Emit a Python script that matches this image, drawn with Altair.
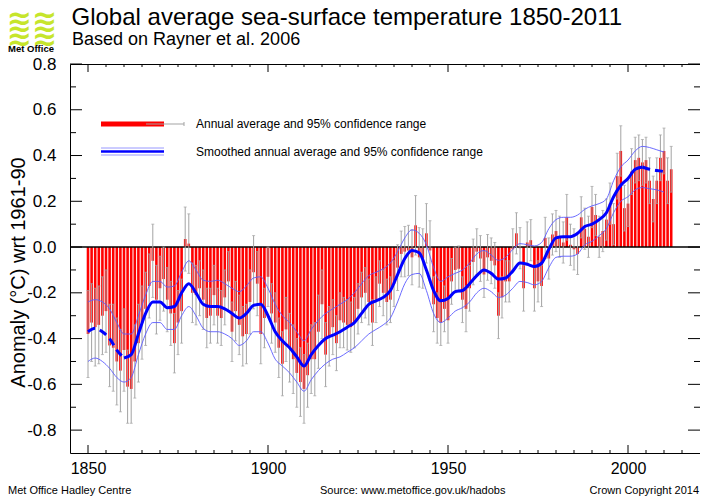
import altair as alt
import pandas as pd

# ---------------- data ----------------
years = list(range(1850, 2013))
anomaly = [
    -0.38, -0.33, -0.35, -0.34, -0.30, -0.28, -0.43, -0.44, -0.50, -0.54,
    -0.45, -0.61, -0.62, -0.50, -0.42, -0.33, -0.27, -0.17, -0.06, -0.23,
    -0.18, -0.14, -0.23, -0.29, -0.42, -0.33, -0.28, 0.035, 0.015, -0.20,
    -0.21, -0.18, -0.23, -0.31, -0.30, -0.21, -0.30, -0.31, -0.22, -0.15,
    -0.37, -0.28, -0.34, -0.39, -0.38, -0.24, -0.11, -0.16, -0.38, -0.31,
    -0.13, -0.29, -0.33, -0.44, -0.51, -0.36, -0.44, -0.49, -0.55, -0.59,
    -0.62, -0.56, -0.49, -0.49, -0.37, -0.25, -0.47, -0.39, -0.35, -0.42,
    -0.32, -0.33, -0.34, -0.35, -0.33, -0.27, -0.22, -0.20, -0.24, -0.33,
    -0.23, -0.16, -0.20, -0.24, -0.23, -0.16, -0.09, -0.03, -0.02, -0.015,
    -0.045, 0.095, -0.045, -0.05, 0.06, -0.015, -0.25, -0.31, -0.33, -0.27,
    -0.32, -0.15, -0.10, -0.095, -0.23, -0.27, -0.18, -0.065, -0.02, -0.05,
    -0.12, -0.045, -0.06, -0.08, -0.30, -0.22, -0.15, -0.15, -0.01, 0.06,
    -0.005, -0.18, 0.02, 0.03, -0.18, -0.15, -0.17, 0.04, -0.05, 0.055,
    0.07, 0.045, 0.02, 0.13, 0.01, -0.01, -0.03, 0.13, 0.08, 0.045,
    0.175, 0.14, 0.045, 0.07, 0.12, 0.19, 0.10, 0.31, 0.42, 0.17,
    0.19, 0.33, 0.38, 0.39, 0.37, 0.38, 0.29, 0.21, 0.29, 0.39,
    0.42, 0.29, 0.34,
]
err = [
    0.19, 0.17, 0.17, 0.17, 0.17, 0.18, 0.18, 0.19, 0.19, 0.18,
    0.18, 0.16, 0.15, 0.16, 0.17, 0.16, 0.16, 0.14, 0.16, 0.15,
    0.14, 0.14, 0.14, 0.14, 0.13, 0.14, 0.14, 0.14, 0.13, 0.13,
    0.13, 0.12, 0.13, 0.13, 0.12, 0.13, 0.12, 0.12, 0.12, 0.13,
    0.13, 0.13, 0.13, 0.13, 0.13, 0.14, 0.16, 0.14, 0.13, 0.13,
    0.13, 0.13, 0.13, 0.13, 0.14, 0.14, 0.15, 0.15, 0.15, 0.15,
    0.15, 0.14, 0.15, 0.16, 0.16, 0.15, 0.14, 0.13, 0.12, 0.12,
    0.12, 0.11, 0.11, 0.11, 0.11, 0.11, 0.11, 0.11, 0.10, 0.10,
    0.10, 0.10, 0.10, 0.10, 0.10, 0.10, 0.10, 0.10, 0.11, 0.11,
    0.12, 0.13, 0.13, 0.13, 0.13, 0.13, 0.12, 0.11, 0.10, 0.10,
    0.10, 0.10, 0.10, 0.10, 0.10, 0.10, 0.10, 0.10, 0.10, 0.10,
    0.10, 0.10, 0.10, 0.10, 0.10, 0.09, 0.09, 0.09, 0.09, 0.09,
    0.09, 0.10, 0.09, 0.09, 0.10, 0.09, 0.09, 0.09, 0.09, 0.09,
    0.09, 0.09, 0.09, 0.10, 0.09, 0.09, 0.09, 0.09, 0.09, 0.09,
    0.09, 0.09, 0.09, 0.09, 0.09, 0.09, 0.09, 0.10, 0.11, 0.10,
    0.10, 0.10, 0.10, 0.10, 0.10, 0.10, 0.10, 0.10, 0.10, 0.10,
    0.10, 0.10, 0.10,
]

smooth_years = list(range(1850, 2011, 2))
smooth = [
    -0.37, -0.355, -0.37, -0.40, -0.45, -0.485, -0.47, -0.38, -0.29, -0.24,
    -0.24, -0.265, -0.26, -0.20, -0.16, -0.20, -0.25, -0.26, -0.26, -0.27,
    -0.29, -0.31, -0.29, -0.255, -0.25, -0.30, -0.37, -0.41, -0.44, -0.48,
    -0.52, -0.47, -0.43, -0.40, -0.385, -0.37, -0.35, -0.33, -0.29, -0.25,
    -0.235, -0.22, -0.19, -0.12, -0.05, -0.015, -0.025, -0.10, -0.19, -0.235,
    -0.225, -0.195, -0.19, -0.16, -0.125, -0.10, -0.115, -0.14, -0.135, -0.105,
    -0.07, -0.075, -0.085, -0.07, -0.01, 0.04, 0.045, 0.045, 0.06, 0.09,
    0.10, 0.12, 0.15, 0.22, 0.27, 0.30, 0.34, 0.35, 0.34, 0.335,
    0.33,
]
smooth_upper = [
    -0.24, -0.23, -0.24, -0.27, -0.33, -0.38, -0.38, -0.30, -0.21, -0.15,
    -0.15, -0.175, -0.17, -0.11, -0.06, -0.10, -0.145, -0.15, -0.145, -0.16,
    -0.18, -0.195, -0.17, -0.135, -0.13, -0.18, -0.25, -0.30, -0.33, -0.37,
    -0.41, -0.36, -0.32, -0.29, -0.27, -0.25, -0.23, -0.20, -0.16, -0.125,
    -0.11, -0.095, -0.07, -0.02, 0.04, 0.075, 0.06, 0.01, -0.09, -0.15,
    -0.13, -0.115, -0.10, -0.07, -0.03, -0.015, -0.035, -0.058, -0.045, -0.01,
    0.015, 0.01, 0.005, 0.02, 0.08, 0.12, 0.13, 0.13, 0.14, 0.165,
    0.18, 0.19, 0.21, 0.29, 0.35, 0.38, 0.42, 0.44, 0.435, 0.425,
    0.415,
]
smooth_lower = [
    -0.50, -0.485, -0.50, -0.53, -0.57, -0.59, -0.57, -0.47, -0.38, -0.33,
    -0.33, -0.36, -0.36, -0.30, -0.26, -0.30, -0.355, -0.37, -0.37, -0.38,
    -0.40, -0.43, -0.41, -0.37, -0.37, -0.42, -0.49, -0.52, -0.55, -0.59,
    -0.63, -0.58, -0.54, -0.51, -0.49, -0.48, -0.46, -0.44, -0.41, -0.38,
    -0.36, -0.34, -0.31, -0.24, -0.16, -0.12, -0.115, -0.19, -0.29, -0.33,
    -0.31, -0.28, -0.265, -0.24, -0.20, -0.18, -0.195, -0.22, -0.21, -0.18,
    -0.15, -0.155, -0.165, -0.15, -0.09, -0.045, -0.04, -0.04, -0.03, 0.01,
    0.025, 0.05, 0.08, 0.15, 0.20, 0.22, 0.25, 0.26, 0.255, 0.25,
    0.24,
]

x_major = [1850, 1900, 1950, 2000]
x_minor = [1855, 1860, 1865, 1870, 1875, 1880, 1885, 1890, 1895, 1905, 1910,
           1915, 1920, 1925, 1930, 1935, 1940, 1945, 1955, 1960, 1965, 1970,
           1975, 1980, 1985, 1990, 1995, 2005, 2010, 2015]
y_major = [-0.8, -0.6, -0.4, -0.2, 0.0, 0.2, 0.4, 0.6, 0.8]
y_minor = [-0.7, -0.5, -0.3, -0.1, 0.1, 0.3, 0.5, 0.7]

title = "Global average sea-surface temperature 1850-2011"
subtitle = "Based on Rayner et al. 2006"
y_title = "Anomaly (°C) wrt 1961-90"
legend_labels = ["Annual average and 95% confidence range",
                 "Smoothed annual average and 95% confidence range"]
footer_left = "Met Office Hadley Centre"
footer_mid = "Source: www.metoffice.gov.uk/hadobs"
footer_right = "Crown Copyright 2014"
logo_text = "Met Office"
logo_waves = ["~~", "~~", "~~", "~~", "~~"]

# ---------------- build ----------------
W, H = 630, 389
FONT = "Liberation Sans"
GREEN = "#c6e52c"

annual_df = pd.DataFrame({"year": years, "anomaly": anomaly, "err": err})
smooth_df = pd.DataFrame({"year": smooth_years, "mid": smooth,
                          "upper": smooth_upper, "lower": smooth_lower})
one = pd.DataFrame({"k": [0]})

xs = alt.Scale(domain=[1845, 2020], nice=False, zero=False)
ys = alt.Scale(domain=[-0.9, 0.8], nice=False, zero=False)

x_axis = alt.Axis(values=x_major, format="d", ticks=False, tickSize=0, domain=False,
                  grid=False, labelFontSize=16, labelPadding=7, labelFont=FONT,
                  labelColor="black", title=None)
y_axis = alt.Axis(values=y_major, ticks=False, tickSize=0, domain=False, grid=False,
                  labelExpr="replace(format(datum.value, '.1f'), '\u2212', '-')",
                  labelFontSize=17, labelPadding=14, labelFont=FONT, labelColor="black",
                  title=y_title, titleFont=FONT, titleFontSize=20, titleFontWeight="normal",
                  titleColor="black", titleX=-52, titleY=208, titleAngle=270,
                  titleAlign="center", titleBaseline="middle")

bars = alt.Chart(annual_df).mark_rule(color="#ff0000", strokeWidth=2.6).encode(
    x=alt.X("year:Q", scale=xs, axis=x_axis),
    y=alt.Y("anomaly:Q", scale=ys, axis=y_axis),
    y2=alt.datum(0),
)

zero = alt.Chart(one).mark_rule(color="black", strokeWidth=1.5).encode(y=alt.datum(0))

base_err = alt.Chart(annual_df).transform_calculate(
    lo="datum.anomaly - datum.err", hi="datum.anomaly + datum.err")
errbars = base_err.mark_rule(color="#a3a3a3", strokeWidth=1).encode(
    x="year:Q", y=alt.Y("lo:Q"), y2="hi:Q")
cap_lo = base_err.mark_tick(color="#a3a3a3", thickness=1, size=3, orient="horizontal").encode(
    x="year:Q", y="lo:Q")
cap_hi = base_err.mark_tick(color="#a3a3a3", thickness=1, size=3, orient="horizontal").encode(
    x="year:Q", y="hi:Q")

sm = alt.Chart(smooth_df)
upper_line = sm.mark_line(color="#5a5aff", strokeWidth=0.9, interpolate="monotone").encode(
    x="year:Q", y="upper:Q")
lower_line = sm.mark_line(color="#5a5aff", strokeWidth=0.9, interpolate="monotone").encode(
    x="year:Q", y="lower:Q")
mid_solid = sm.transform_filter("datum.year >= 1860 && datum.year <= 2004").mark_line(
    color="#0000ff", strokeWidth=3, interpolate="monotone").encode(x="year:Q", y="mid:Q")
mid_dash1 = sm.transform_filter("datum.year <= 1860").mark_line(
    color="#0000ff", strokeWidth=3, interpolate="monotone", strokeDash=[8, 5]).encode(
    x="year:Q", y="mid:Q")
mid_dash2 = sm.transform_filter("datum.year >= 2004").mark_line(
    color="#0000ff", strokeWidth=3, interpolate="monotone", strokeDash=[8, 5]).encode(
    x="year:Q", y="mid:Q")

# inward tick marks on all four sides
xmaj = pd.DataFrame({"t": x_major})
xmin = pd.DataFrame({"t": x_minor})
ymaj = pd.DataFrame({"t": y_major})
ymin = pd.DataFrame({"t": y_minor})
tick_layers = []
for d, ln in ((xmaj, 8), (xmin, 3)):
    tick_layers.append(alt.Chart(d).mark_rule(color="black", strokeWidth=1).encode(
        x="t:Q", y=alt.value(H), y2=alt.value(H - ln)))
    tick_layers.append(alt.Chart(d).mark_rule(color="black", strokeWidth=1).encode(
        x="t:Q", y=alt.value(0), y2=alt.value(ln)))
for d, ln in ((ymaj, 12), (ymin, 6)):
    tick_layers.append(alt.Chart(d).mark_rule(color="black", strokeWidth=1).encode(
        y="t:Q", x=alt.value(0), x2=alt.value(ln)))
    tick_layers.append(alt.Chart(d).mark_rule(color="black", strokeWidth=1).encode(
        y="t:Q", x=alt.value(W), x2=alt.value(W - ln)))

# legend (drawn inside the plot)
lg = alt.Chart(one)
leg = [
    lg.mark_rule(color="#ff0000", strokeWidth=5).encode(
        x=alt.value(31), x2=alt.value(94), y=alt.value(60)),
    lg.mark_rule(color="#a3a3a3", strokeWidth=1).encode(
        x=alt.value(76), x2=alt.value(114), y=alt.value(60)),
    lg.mark_rule(color="#a3a3a3", strokeWidth=1).encode(
        x=alt.value(114), y=alt.value(58), y2=alt.value(62)),
    lg.mark_rule(color="#0000ff", strokeWidth=2.5).encode(
        x=alt.value(31), x2=alt.value(94), y=alt.value(87.5)),
    lg.mark_rule(color="#8c8cff", strokeWidth=0.9).encode(
        x=alt.value(31), x2=alt.value(94), y=alt.value(84)),
    lg.mark_rule(color="#8c8cff", strokeWidth=0.9).encode(
        x=alt.value(31), x2=alt.value(94), y=alt.value(91)),
    lg.mark_text(text=legend_labels[0], font=FONT, fontSize=12, align="left",
                 baseline="middle", color="black").encode(x=alt.value(126), y=alt.value(60)),
    lg.mark_text(text=legend_labels[1], font=FONT, fontSize=12, align="left",
                 baseline="middle", color="black").encode(x=alt.value(126), y=alt.value(87.5)),
]

# logo: stacked wave glyphs (one multi-line text) + name
logo = [
    lg.mark_text(text=logo_waves, font="DejaVu Sans", fontSize=30, fontWeight="bold",
                 lineHeight=7, align="center", baseline="middle", color=GREEN).encode(
        x=alt.value(-38), y=alt.value(-48)),
    lg.mark_text(text=logo_text, font=FONT, fontSize=9.5, fontWeight="bold",
                 align="center", baseline="alphabetic", color="black").encode(
        x=alt.value(-39), y=alt.value(-12)),
]

texts = [
    lg.mark_text(text=title, font=FONT, fontSize=24, align="left", baseline="alphabetic",
                 color="black").encode(x=alt.value(1.5), y=alt.value(-39)),
    lg.mark_text(text=subtitle, font=FONT, fontSize=18, align="left", baseline="alphabetic",
                 color="black").encode(x=alt.value(2), y=alt.value(-19)),
    lg.mark_text(text=footer_left, font=FONT, fontSize=11, align="left", baseline="alphabetic",
                 color="black").encode(x=alt.value(-62), y=alt.value(430)),
    lg.mark_text(text=footer_mid, font=FONT, fontSize=11, align="left", baseline="alphabetic",
                 color="black").encode(x=alt.value(250), y=alt.value(430)),
    lg.mark_text(text=footer_right, font=FONT, fontSize=11, align="right", baseline="alphabetic",
                 color="black").encode(x=alt.value(629), y=alt.value(430)),
]

chart = alt.layer(
    bars, zero, errbars, cap_lo, cap_hi, upper_line, lower_line,
    mid_solid, mid_dash1, mid_dash2, *tick_layers, *leg, *logo, *texts,
).properties(
    width=W, height=H,
    autosize=alt.AutoSizeParams(type="none"),
    padding={"left": 62, "top": 56, "right": 0, "bottom": 43},
    background="white",
).configure_view(
    stroke="black", strokeWidth=1,
)

chart.save("out.html", embed_options={"renderer": "svg", "actions": False})
